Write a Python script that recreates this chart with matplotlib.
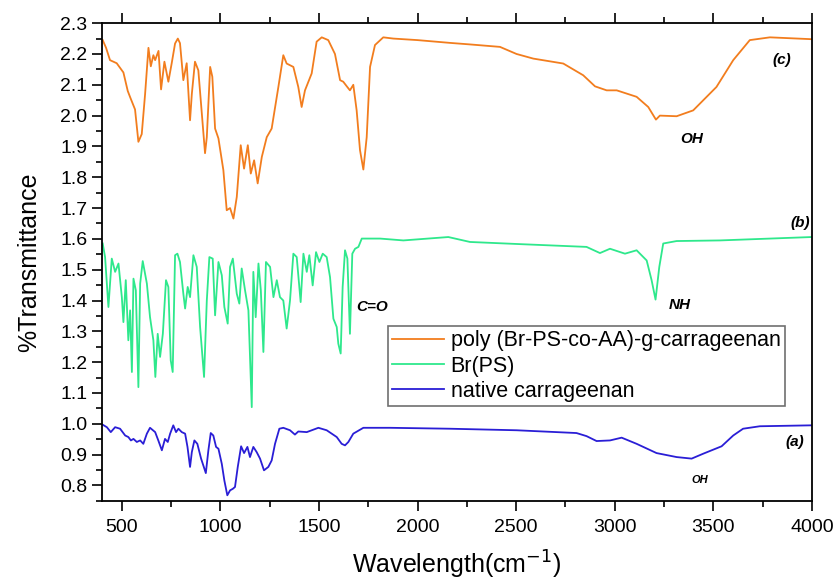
import matplotlib
matplotlib.use("Agg")
import matplotlib.pyplot as plt
from matplotlib.ticker import MultipleLocator

plt.rcParams['font.family'] = ['Liberation Sans', 'DejaVu Sans']

# spectrum (c): poly (Br-PS-co-AA)-g-carrageenan
wn_c = [403, 420, 440, 474, 508, 530, 542, 567, 584, 601, 618, 635, 647, 660, 669, 686,
        699, 716, 736, 753, 770, 784, 795, 812, 829, 846, 855, 871, 888, 922, 931, 948,
        959, 973, 990, 1015, 1032, 1049, 1066, 1083, 1103, 1120, 1139, 1154, 1171, 1189,
        1210, 1235, 1260, 1294, 1319, 1336, 1370, 1395, 1412, 1429, 1463, 1488, 1514,
        1547, 1581, 1607, 1623, 1641, 1657, 1674, 1691, 1708, 1725, 1742, 1759, 1784,
        1826, 1877, 2000, 2164, 2266, 2418, 2502, 2587, 2739, 2840, 2900, 2959, 3010, 3111,
        3170, 3209, 3229, 3314, 3398, 3516, 3601, 3685, 3787, 3998]
tr_c = [2.245, 2.22, 2.18, 2.17, 2.14, 2.08, 2.06, 2.02, 1.915, 1.94, 2.07, 2.22, 2.16,
        2.196, 2.18, 2.21, 2.085, 2.175, 2.11, 2.17, 2.234, 2.25, 2.235, 2.115, 2.17,
        1.985, 2.07, 2.175, 2.147, 1.878, 1.93, 2.158, 2.126, 1.958, 1.926, 1.823, 1.693,
        1.70, 1.666, 1.736, 1.904, 1.828, 1.904, 1.812, 1.855, 1.78, 1.866, 1.93, 1.958,
        2.093, 2.196, 2.169, 2.158, 2.093, 2.028, 2.082, 2.137, 2.24, 2.254, 2.245, 2.20,
        2.115, 2.11, 2.095, 2.082, 2.10, 2.017, 1.888, 1.825, 1.93, 2.158, 2.229, 2.254,
        2.25, 2.245, 2.236, 2.231, 2.223, 2.20, 2.185, 2.169, 2.131, 2.095, 2.082, 2.082, 2.061,
        2.028, 1.987, 2.0, 1.998, 2.017, 2.093, 2.18, 2.245, 2.254, 2.248]

# spectrum (b): Br(PS)
wn_b = [403, 415, 432, 449, 466, 483, 500, 508, 520, 533, 542, 551, 559, 571, 584, 593,
        606, 627, 643, 660, 670, 682, 694, 708, 724, 736, 748, 758, 770, 782, 795, 812,
        821, 834, 846, 863, 880, 897, 917, 931, 944, 961, 973, 990, 1007, 1020, 1037,
        1049, 1063, 1083, 1096, 1108, 1125, 1142, 1159, 1167, 1179, 1193, 1205, 1218,
        1231, 1252, 1269, 1286, 1302, 1319, 1336, 1353, 1370, 1387, 1407, 1421, 1438,
        1451, 1468, 1485, 1502, 1519, 1539, 1556, 1573, 1590, 1598, 1610, 1620, 1632,
        1644, 1657, 1669, 1683, 1700, 1717, 1810, 1928, 2156, 2266, 2519, 2857, 2925,
        2976, 3052, 3111, 3162, 3187, 3207, 3226, 3246, 3314, 3533, 3787, 3998]
tr_b = [1.585, 1.541, 1.379, 1.536, 1.493, 1.52, 1.411, 1.33, 1.466, 1.271, 1.368, 1.168,
        1.471, 1.433, 1.119, 1.455, 1.528, 1.455, 1.346, 1.271, 1.152, 1.292, 1.217,
        1.292, 1.466, 1.444, 1.206, 1.168, 1.547, 1.552, 1.525, 1.422, 1.374, 1.444,
        1.411, 1.547, 1.509, 1.314, 1.152, 1.40, 1.541, 1.536, 1.352, 1.525, 1.482,
        1.379, 1.325, 1.509, 1.536, 1.422, 1.39, 1.504, 1.433, 1.368, 1.054, 1.493,
        1.346, 1.52, 1.433, 1.233, 1.525, 1.509, 1.411, 1.466, 1.411, 1.40, 1.309, 1.40,
        1.552, 1.541, 1.395, 1.552, 1.493, 1.547, 1.449, 1.557, 1.525, 1.552, 1.541,
        1.476, 1.341, 1.314, 1.26, 1.228, 1.444, 1.563, 1.536, 1.292, 1.552, 1.568,
        1.574, 1.601, 1.601, 1.595, 1.606, 1.59, 1.583, 1.574, 1.554, 1.568, 1.552,
        1.563, 1.53, 1.466, 1.403, 1.509, 1.585, 1.593, 1.595, 1.601, 1.606]

# spectrum (a): native carrageenan
wn_a = [403, 424, 444, 466, 491, 517, 533, 546, 559, 576, 593, 609, 627, 643, 669, 685,
        703, 719, 733, 745, 761, 775, 787, 804, 821, 833, 846, 855, 868, 883, 902, 926,
        939, 951, 964, 978, 990, 1007, 1020, 1035, 1049, 1063, 1074, 1088, 1105, 1120,
        1137, 1150, 1167, 1184, 1201, 1221, 1243, 1260, 1277, 1299, 1319, 1353, 1378,
        1395, 1438, 1497, 1539, 1590, 1615, 1632, 1649, 1674, 1725, 1860, 2164, 2502,
        2806, 2857, 2908, 2976, 3035, 3111, 3212, 3314, 3390, 3449, 3542, 3601, 3651,
        3736, 3998]
tr_a = [0.997, 0.989, 0.973, 0.989, 0.984, 0.962, 0.957, 0.946, 0.951, 0.941, 0.946,
        0.935, 0.968, 0.987, 0.973, 0.946, 0.914, 0.951, 0.941, 0.968, 0.995, 0.973,
        0.984, 0.973, 0.968, 0.925, 0.86, 0.908, 0.946, 0.935, 0.887, 0.84, 0.914, 0.97,
        0.962, 0.925, 0.919, 0.87, 0.816, 0.768, 0.784, 0.789, 0.795, 0.86, 0.927, 0.905,
        0.925, 0.892, 0.925, 0.908, 0.887, 0.849, 0.86, 0.881, 0.935, 0.984, 0.987, 0.979,
        0.965, 0.975, 0.973, 0.987, 0.979, 0.957, 0.935, 0.93, 0.941, 0.968, 0.987, 0.987,
        0.984, 0.979, 0.97, 0.96, 0.944, 0.946, 0.955, 0.935, 0.905, 0.892, 0.887, 0.903,
        0.927, 0.962, 0.984, 0.992, 0.995]

series_names = ['poly (Br-PS-co-AA)-g-carrageenan', 'Br(PS)', 'native carrageenan']
colors = ['#F27D1E', '#2EE88C', '#2A1ED6']

fig = plt.figure(figsize=(8.37, 5.79), dpi=100)
ax = fig.add_axes([0.122, 0.135, 0.848, 0.825])

ax.plot(wn_c, tr_c, color=colors[0], lw=1.3, label=series_names[0])
ax.plot(wn_b, tr_b, color=colors[1], lw=1.3, label=series_names[1])
ax.plot(wn_a, tr_a, color=colors[2], lw=1.3, label=series_names[2])

ax.set_xlim(400, 4000)
ax.set_ylim(0.75, 2.3)
ax.xaxis.set_major_locator(MultipleLocator(500))
ax.xaxis.set_minor_locator(MultipleLocator(250))
ax.yaxis.set_major_locator(MultipleLocator(0.1))
ax.yaxis.set_minor_locator(MultipleLocator(0.05))
ax.tick_params(which='both', direction='out', top=True, right=False, labelsize=14, width=1.2)
ax.tick_params(which='major', length=7)
ax.tick_params(which='minor', length=4)
ax.tick_params(axis='x', which='major', pad=6)
for s in ax.spines.values():
    s.set_linewidth(1.3)

ax.set_xlabel('Wavelength(cm$^{-1}$)', fontsize=18, labelpad=9)
ax.set_ylabel('%Transmittance', fontsize=18, labelpad=14)

# peak annotations
ann = dict(fontweight='bold', fontstyle='italic', ha='center', va='center')
ax.text(3846, 2.18, '(c)', fontsize=11, **ann)
ax.text(3390, 1.925, 'OH', fontsize=11, **ann)
ax.text(3939, 1.652, '(b)', fontsize=11, **ann)
ax.text(3330, 1.384, 'NH', fontsize=11, **ann)
ax.text(1770, 1.378, 'C=O', fontsize=11, **ann)
ax.text(3914, 0.941, '(a)', fontsize=11, **ann)
ax.text(3433, 0.816, 'OH', fontsize=8, **ann)

leg = ax.legend(loc='upper left', bbox_to_anchor=(0.403, 0.366), borderaxespad=0,
                fontsize=15.5, fancybox=False, framealpha=1, edgecolor='#707070',
                handlelength=2.4, handletextpad=0.3, labelspacing=0.2, borderpad=0.2)
leg.get_frame().set_linewidth(1.2)

fig.savefig('out.png', dpi=100)
